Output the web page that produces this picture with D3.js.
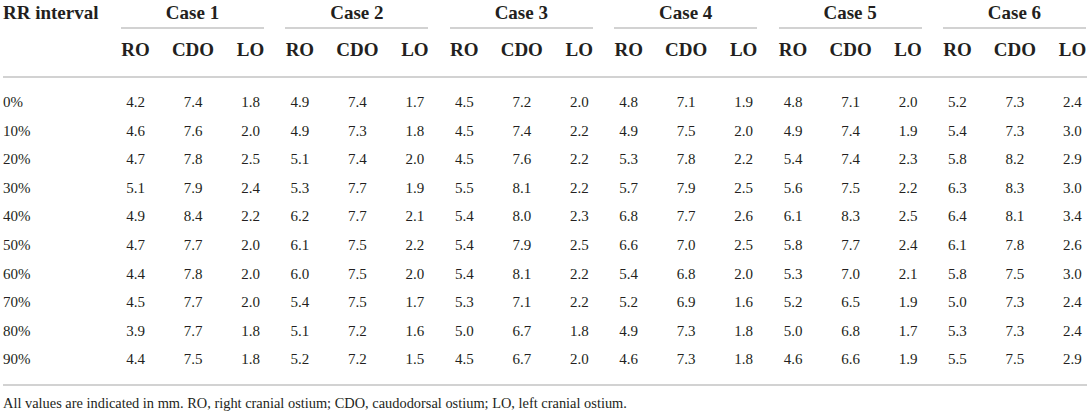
<!DOCTYPE html>
<head>
<meta charset="utf-8">
<style>
body { margin: 0; background: #fff; }
svg text { font-family: "Liberation Serif", "Times New Roman", serif; fill: #231f20; }
.head { font-size: 19px; font-weight: bold; }
.cell { font-size: 15px; }
.note { font-size: 14.4px; }
.rule { stroke: #d2d2d2; stroke-width: 2; shape-rendering: crispEdges; }
</style>
</head>
<body>
<script src="https://cdn.jsdelivr.net/npm/d3@7"></script>
<script>

// table contents
var intervals = ["0%", "10%", "20%", "30%", "40%", "50%", "60%", "70%", "80%", "90%"];
var cases = ["Case 1", "Case 2", "Case 3", "Case 4", "Case 5", "Case 6"];
var ostia = ["RO", "CDO", "LO"];

// one array per case, each row = [RO, CDO, LO]
var case1 = [[4.2,7.4,1.8],[4.6,7.6,2.0],[4.7,7.8,2.5],[5.1,7.9,2.4],[4.9,8.4,2.2],[4.7,7.7,2.0],[4.4,7.8,2.0],[4.5,7.7,2.0],[3.9,7.7,1.8],[4.4,7.5,1.8]];
var case2 = [[4.9,7.4,1.7],[4.9,7.3,1.8],[5.1,7.4,2.0],[5.3,7.7,1.9],[6.2,7.7,2.1],[6.1,7.5,2.2],[6.0,7.5,2.0],[5.4,7.5,1.7],[5.1,7.2,1.6],[5.2,7.2,1.5]];
var case3 = [[4.5,7.2,2.0],[4.5,7.4,2.2],[4.5,7.6,2.2],[5.5,8.1,2.2],[5.4,8.0,2.3],[5.4,7.9,2.5],[5.4,8.1,2.2],[5.3,7.1,2.2],[5.0,6.7,1.8],[4.5,6.7,2.0]];
var case4 = [[4.8,7.1,1.9],[4.9,7.5,2.0],[5.3,7.8,2.2],[5.7,7.9,2.5],[6.8,7.7,2.6],[6.6,7.0,2.5],[5.4,6.8,2.0],[5.2,6.9,1.6],[4.9,7.3,1.8],[4.6,7.3,1.8]];
var case5 = [[4.8,7.1,2.0],[4.9,7.4,1.9],[5.4,7.4,2.3],[5.6,7.5,2.2],[6.1,8.3,2.5],[5.8,7.7,2.4],[5.3,7.0,2.1],[5.2,6.5,1.9],[5.0,6.8,1.7],[4.6,6.6,1.9]];
var case6 = [[5.2,7.3,2.4],[5.4,7.3,3.0],[5.8,8.2,2.9],[6.3,8.3,3.0],[6.4,8.1,3.4],[6.1,7.8,2.6],[5.8,7.5,3.0],[5.0,7.3,2.4],[5.3,7.3,2.4],[5.5,7.5,2.9]];
var caseValues = [case1, case2, case3, case4, case5, case6];

var footnote = "All values are indicated in mm. RO, right cranial ostium; CDO, caudodorsal ostium; LO, left cranial ostium.";

var width = 1089, height = 412;

var svg = d3.select("body").append("svg")
    .attr("width", width)
    .attr("height", height);

// column groups per case, and columns inside a group
var x = d3.scaleBand().domain(cases).range([121, 1086]).paddingInner(0.13);
var xSub = d3.scalePoint().domain(ostia).range([14.5, 129.5]);

// rows
var y = d3.scalePoint().domain(intervals).range([102, 359]);

// top header line: case names
svg.append("text")
    .attr("class", "head")
    .attr("x", 3)
    .attr("y", 12)
    .attr("dy", "0.35em")
    .text("RR interval");

var groups = svg.selectAll(".case")
    .data(cases)
    .enter().append("g")
    .attr("class", "case")
    .attr("transform", function(d) { return "translate(" + x(d) + ",0)"; });

groups.append("text")
    .attr("class", "head")
    .attr("x", x.bandwidth() / 2)
    .attr("y", 12)
    .attr("dy", "0.35em")
    .attr("text-anchor", "middle")
    .text(function(d) { return d; });

groups.append("line")
    .attr("class", "rule")
    .attr("x1", 0)
    .attr("x2", x.bandwidth())
    .attr("y1", 28)
    .attr("y2", 28);

groups.selectAll(".sub")
    .data(ostia)
    .enter().append("text")
    .attr("class", "head sub")
    .attr("x", function(d) { return xSub(d); })
    .attr("y", 49)
    .attr("dy", "0.35em")
    .attr("text-anchor", "middle")
    .text(function(d) { return d; });

// rule under header, rule under body
svg.append("line").attr("class", "rule")
    .attr("x1", 3).attr("x2", 1087).attr("y1", 77).attr("y2", 77);
svg.append("line").attr("class", "rule")
    .attr("x1", 3).attr("x2", 1087).attr("y1", 385).attr("y2", 385);

// row labels
svg.selectAll(".rowlab")
    .data(intervals)
    .enter().append("text")
    .attr("class", "cell rowlab")
    .attr("x", 3)
    .attr("y", function(d) { return y(d); })
    .attr("dy", "0.35em")
    .text(function(d) { return d; });

// values
groups.each(function(c, ci) {
    var g = d3.select(this);
    caseValues[ci].forEach(function(row, ri) {
        g.selectAll(null)
            .data(row)
            .enter().append("text")
            .attr("class", "cell")
            .attr("x", function(v, k) { return xSub(ostia[k]); })
            .attr("y", y(intervals[ri]))
            .attr("dy", "0.35em")
            .attr("text-anchor", "middle")
            .text(function(v) { return d3.format(".1f")(v); });
    });
});

svg.append("text")
    .attr("class", "note")
    .attr("x", 3)
    .attr("y", 403)
    .attr("dy", "0.35em")
    .text(footnote);

</script>
</body>
